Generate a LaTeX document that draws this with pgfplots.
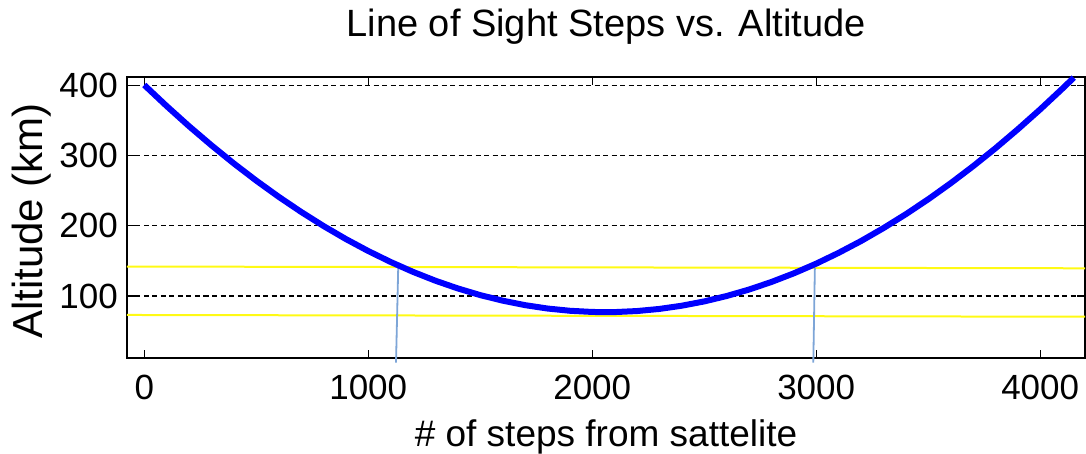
\documentclass[border=0pt]{standalone}
\usepackage{fontspec}
\setmainfont{Liberation Sans}
\usepackage{pgfplots}
\pgfplotsset{compat=1.18}
\definecolor{losblue}{RGB}{0,0,255}
\definecolor{steel}{RGB}{125,165,215}
\definecolor{yel}{RGB}{255,250,20}
\begin{document}
\begin{tikzpicture}
\useasboundingbox (-127pt,-95pt) rectangle (959pt,358pt);
\begin{axis}[
  at={(0pt,0pt)}, anchor=south west,
  scale only axis, width=958pt, height=281pt,
  xmin=-77, xmax=4200, ymin=11.7, ymax=412,
  clip=false,
  xtick={0,1000,2000,3000,4000},
  ytick={100,200,300,400},
  scaled x ticks=false,
  /pgf/number format/1000 sep={},
  /pgf/number format/assume math mode=true,
  tick align=inside,
  major tick length=8pt,
  tick style={black, line width=1.3pt},
  axis line style={black, line width=1.6pt},
  ymajorgrids,
  major grid style={black, line width=1.3pt, dash pattern=on 5pt off 3.5pt},
  tick label style={font=\fontsize{35}{40}\selectfont},
  xticklabel style={inner sep=0pt, anchor=north},
  xticklabel shift=17pt,
  yticklabel style={inner sep=0pt, anchor=east},
  yticklabel shift=9pt,
  title={Line of Sight Steps vs. Altitude},
  title style={font=\fontsize{38}{44}\selectfont, at={(axis description cs:0.5,1.121)}, anchor=base, inner sep=0pt},
  xlabel={\# of steps from sattelite},
  xlabel style={font=\fontsize{37}{44}\selectfont, at={(axis description cs:0.5,-0.3167)}, anchor=base, inner sep=0pt},
  ylabel={Altitude (km)},
  ylabel style={font=\fontsize{42}{48}\selectfont, at={(axis description cs:-0.0887,0.4875)}, anchor=base, inner sep=0pt},
]
% yellow reference altitudes
\addplot[yel, line width=2pt] coordinates {(-77,142) (4200,139.5)};
\addplot[yel, line width=2pt] coordinates {(-77,73) (4200,70.5)};
% light-blue drop lines
\addplot[steel, line width=1.8pt] coordinates {(1134,142) (1124,5)};
\addplot[steel, line width=1.8pt] coordinates {(2994,140) (2987,5)};
% line of sight altitude
\addplot[losblue, line width=6pt, line join=round] coordinates {
(0,400.6) (100,370.6) (200,341.9) (300,314.7) (400,288.8) (500,264.4)
(600,241.4) (700,219.9) (800,199.8) (900,181.2) (1000,164.1) (1100,148.5)
(1200,134.4) (1300,121.8) (1400,110.8) (1500,101.3) (1600,93.4) (1700,87.0)
(1800,82.2) (1900,79.0) (2000,77.3) (2058,77.0) (2100,77.1) (2200,78.6)
(2300,81.6) (2400,86.2) (2500,92.3) (2600,100.0) (2700,109.2) (2800,120.0)
(2900,132.3) (3000,146.1) (3100,161.5) (3200,178.3) (3300,196.7) (3400,216.5)
(3500,237.8) (3600,260.6) (3700,284.8) (3800,310.4) (3900,337.5) (4000,365.9)
(4100,395.7) (4150,411.1)
};
\end{axis}
\end{tikzpicture}
\end{document}
